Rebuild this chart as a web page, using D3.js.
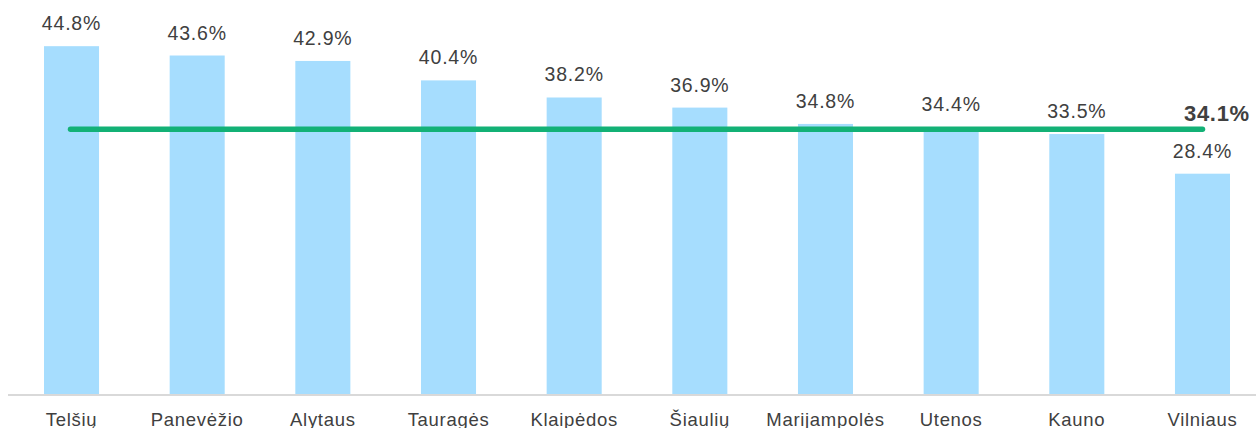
<!DOCTYPE html>
<meta charset="utf-8">
<title>Telšių – Vilniaus</title>
<style>
body { margin: 0; background: #fff; }
.val { font: 19.5px "Liberation Sans", Arial, sans-serif; fill: #404040; text-anchor: middle; letter-spacing: 0.8px; }
.cat { font: 18.5px "Liberation Sans", Arial, sans-serif; fill: #404040; text-anchor: middle; letter-spacing: 0.7px; }
.avg { font: bold 22px "Liberation Sans", Arial, sans-serif; fill: #404040; letter-spacing: 0.7px; }
</style>
<svg width="1256" height="428"></svg>
<script src="https://d3js.org/d3.v7.min.js"></script>
<script>

var regions = ["Telšių", "Panevėžio", "Alytaus", "Tauragės", "Klaipėdos", "Šiaulių", "Marijampolės", "Utenos", "Kauno", "Vilniaus"];
var values = [44.8, 43.6, 42.9, 40.4, 38.2, 36.9, 34.8, 34.4, 33.5, 28.4];
var average = [34.1];

var svg = d3.select("svg"),
    base = 394.5;

var x = d3.scaleBand()
    .domain(regions)
    .range([44, 1230])
    .paddingInner(0.562)
    .paddingOuter(0);

var y = d3.scaleLinear()
    .domain([0, 50])
    .range([base, base - 50 * 7.775]);

// bars
svg.selectAll(".bar")
  .data(values)
  .enter().append("rect")
    .attr("class", "bar")
    .attr("x", function(d, i) { return x(regions[i]); })
    .attr("y", function(d) { return y(d); })
    .attr("width", x.bandwidth())
    .attr("height", function(d) { return base - y(d); })
    .style("fill", "#a6ddfe");

// value labels
svg.selectAll(".val")
  .data(values)
  .enter().append("text")
    .attr("class", "val")
    .attr("x", function(d, i) { return x(regions[i]) + x.bandwidth() / 2; })
    .attr("y", function(d) { return y(d) - 16; })
    .text(function(d) { return d.toFixed(1) + "%"; });

// axis line
svg.append("line")
    .attr("x1", 8).attr("x2", 1256)
    .attr("y1", base + 0.5).attr("y2", base + 0.5)
    .style("stroke", "#d9d9d9")
    .style("stroke-width", 2);

// category labels
svg.selectAll(".cat")
  .data(regions)
  .enter().append("text")
    .attr("class", "cat")
    .attr("x", function(d) { return x(d) + x.bandwidth() / 2; })
    .attr("y", 425.5)
    .text(function(d) { return d; });

// average line
var first = regions[0], last = regions[regions.length - 1];
svg.append("line")
    .attr("x1", x(first) + x.bandwidth() / 2 - 1)
    .attr("x2", x(last) + x.bandwidth() / 2)
    .attr("y1", y(average[0]))
    .attr("y2", y(average[0]))
    .style("stroke", "#13b176")
    .style("stroke-width", 5.5)
    .style("stroke-linecap", "round");

svg.append("text")
    .attr("class", "avg")
    .attr("x", 1184)
    .attr("y", y(average[0]) - 8.5)
    .text(average[0].toFixed(1) + "%");

</script>
